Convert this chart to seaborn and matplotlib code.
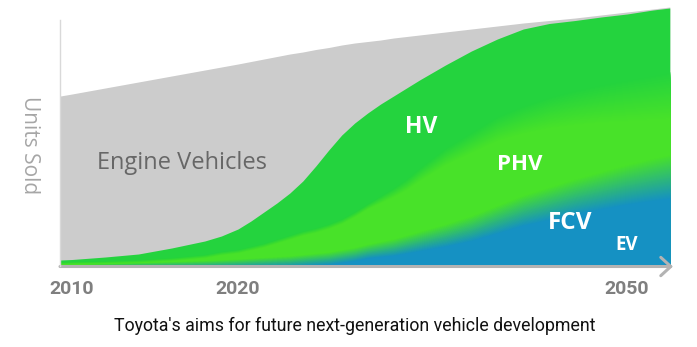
import numpy as np
import matplotlib
matplotlib.use("Agg")
import matplotlib.pyplot as plt
import seaborn as sns
from matplotlib.colors import to_rgb

# ---------------- data (arbitrary "units sold" scale) ----------------
years = [2009.3, 2010, 2012, 2014, 2016,
         2018, 2019, 2020, 2021, 2022, 2023, 2024, 2025, 2026, 2027, 2028, 2029,
         2030, 2031, 2032, 2033, 2034,
         2036, 2038, 2040, 2042, 2044, 2046, 2048, 2050, 2052, 2053.3]
total_units = [170, 172, 178, 184, 190,
               196, 199, 202, 204.5, 207, 209.5, 212, 214, 216.5, 218.5, 221, 223,
               224.5, 226, 228, 229.5, 231,
               234, 237, 240, 243, 245.5, 248, 251, 254, 257, 259]
hv_top = [6, 6.5, 9, 12, 18,
          25, 30, 37, 45, 54, 63, 73, 85, 100, 116, 131, 143,
          153, 162, 170, 178, 186,
          201, 215, 227, 237, 242.5, 245.5, 249, 252, 256, 258]
phv_top = [3, 3.5, 4, 5, 7,
           10, 13, 15, 18, 21, 25, 29, 33, 36, 40, 45, 52,
           60, 67, 74, 82, 92,
           110, 124, 138, 147, 154, 159, 163, 166, 169, 171]
fcv_top = [0, 0, 0.5, 1, 1.5,
           2, 2.5, 3, 3.5, 4, 4.5, 5, 6, 7, 8, 10, 12,
           15, 17, 19, 22, 25,
           31, 38, 47, 56, 63, 70, 76, 82, 87, 90]
ev_top = [0, 0, 0, 0, 0,
          0, 0, 0, 0, 0, 0, 0.5, 0.5, 1, 1, 1.5, 1.5,
          2, 2.5, 3, 3.5, 4,
          5, 7, 9, 11, 14, 17, 20, 24, 28, 30]
tick_years = [2010, 2020, 2050]
tick_labels = ["2010", "2020", "2050"]
segment_labels = ["HV", "PHV", "FCV", "EV"]
label_years = [2034.1, 2041.75, 2045.6, 2050.0]
label_units = [139, 101, 43, 21]
label_sizes = [16.5, 16, 17.5, 13.5]

yrs = np.array(years, float)
tot = np.array(total_units, float)
hv = np.array(hv_top, float)
phv = np.array(phv_top, float)
fcv = np.array(fcv_top, float)
ev = np.array(ev_top, float)

# ---------------- style ----------------
GRAY = "#cccccc"
HV_C = "#24d33e"
PHV_C = "#48e229"
BLUE = "#1591c3"

sns.set_theme(style="white")
plt.rcParams["font.family"] = ["Open Sans", "DejaVu Sans"]

W, H = 697, 347
fig = plt.figure(figsize=(W / 100, H / 100), dpi=100)
ax = fig.add_axes([60 / W, (H - 266) / H, 610 / W, 260 / H])

# piecewise-linear time axis as in the original artwork
SEG1 = 16.6
SEG2 = 389 / 30


def fwd(x):
    x = np.asarray(x, float)
    return np.where(x < 2020, 12 + (x - 2010) * SEG1, 178 + (x - 2020) * SEG2)


def inv(p):
    p = np.asarray(p, float)
    return np.where(p < 178, 2010 + (p - 12) / SEG1, 2020 + (p - 178) / SEG2)


ax.set_xscale("function", functions=(fwd, inv))
ax.set_xlim(float(inv(0)), float(inv(610)))
ax.set_ylim(0, 260)


def blend(c1, c2, t):
    a, b = np.array(to_rgb(c1)), np.array(to_rgb(c2))
    return tuple(a * (1 - t) + b * t)


# engine vehicles (total)
ax.fill_between(yrs, 0, tot, color=GRAY, lw=0, zorder=1)
# HV
ax.fill_between(yrs, 0, hv, color=HV_C, lw=0, zorder=1)

# PHV with soft upper edge (softer toward the future)
w1 = np.interp(yrs, [2009, 2030, 2040, 2054], [2, 5, 24, 48])
N = 40
for k in range(N + 1):
    t = k / N
    y = np.clip(phv + w1 * (0.5 - t), 0, hv)
    ax.fill_between(yrs, 0, y, color=blend(HV_C, PHV_C, t), lw=0, zorder=1)

# FCV with soft transition into blue
w2 = np.interp(yrs, [2009, 2030, 2040, 2054], [2, 14, 28, 45])
for k in range(N + 1):
    t = k / N
    y = np.clip(fcv + w2 * (0.5 - t), 0, hv)
    ax.fill_between(yrs, 0, y, color=blend(PHV_C, BLUE, t), lw=0, zorder=1)

# EV
ax.fill_between(yrs, 0, ev, color=BLUE, lw=0, zorder=1)

# ---------------- axes ----------------
sns.despine(ax=ax, top=True, right=True, bottom=True)
ax.spines["left"].set_color("#d9d9d9")
ax.spines["left"].set_linewidth(1.0)
ax.spines["left"].set_bounds(0, 246)
ax.spines["left"].set_zorder(3)
ax.set_yticks([])
ax.set_xticks(tick_years)
ax.set_xticklabels(tick_labels, fontsize=14, fontweight="bold", color="#7f7f7f",
                   family=["Roboto", "DejaVu Sans"])
ax.tick_params(axis="x", length=0, pad=10)
ax.grid(False)

ax.annotate("", xy=(1.005, -0.002), xytext=(0, -0.002), xycoords="axes fraction",
            textcoords="axes fraction", annotation_clip=False,
            arrowprops=dict(arrowstyle="->,head_length=0.6,head_width=0.55",
                            color="#b3b3b3", lw=2.2, mutation_scale=12,
                            shrinkA=0, shrinkB=0))

# ---------------- labels ----------------
ax.text(2011.5, 103, "Engine Vehicles", ha="left", va="center", fontsize=17,
        color="#676767")
for lab, xv, yv, fs in zip(segment_labels, label_years, label_units, label_sizes):
    ax.text(xv, yv, lab, ha="center", va="center", fontsize=fs,
            fontweight="bold", color="white", zorder=4)

fig.text(29 / W, 1 - 145 / H, "Units Sold", rotation=270, ha="center",
         va="center", fontsize=15, color="#a6a6a6")
fig.text(355 / W, 1 - 326 / H,
         "Toyota's aims for future next-generation vehicle development",
         ha="center", va="center", fontsize=12.8, color="#111111",
         family=["Roboto", "DejaVu Sans"])

fig.savefig("out.png", dpi=100)
